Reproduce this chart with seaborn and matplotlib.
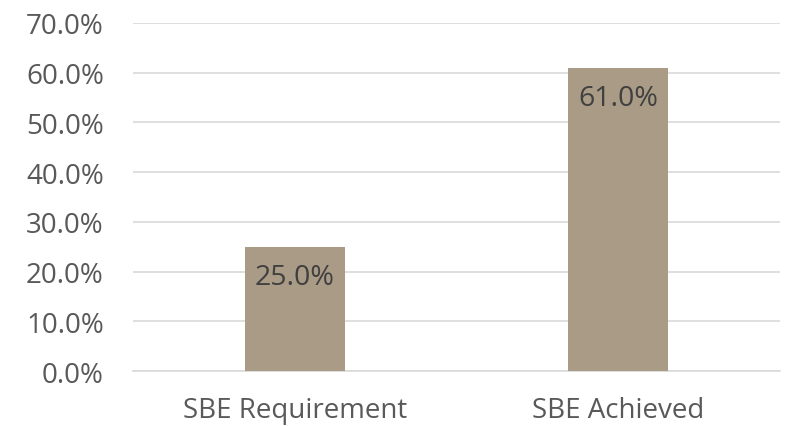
import matplotlib
matplotlib.use("Agg")
import matplotlib.pyplot as plt
import seaborn as sns
import pandas as pd
from matplotlib.ticker import FuncFormatter

categories = ["SBE Requirement", "SBE Achieved"]
values = [25.0, 61.0]
bar_labels = ["25.0%", "61.0%"]

sns.set_theme(style="white")
plt.rcParams["font.family"] = ["Open Sans", "DejaVu Sans"]

df = pd.DataFrame({"category": categories, "value": values})

fig = plt.figure(figsize=(7.87, 4.27), dpi=100)
ax = fig.add_axes([0.169, 0.1288, 0.822, 0.815])

sns.barplot(data=df, x="category", y="value", color="#AA9B86", width=0.31,
            saturation=1, linewidth=0, ax=ax, zorder=3)

ax.set_ylim(0, 70)
ax.set_yticks(range(0, 71, 10))
ax.yaxis.set_major_formatter(FuncFormatter(lambda v, p: f"{v:.1f}%"))
ax.grid(axis="y", color="#D9D9D9", linewidth=1.2, zorder=0)
ax.set_axisbelow(True)
for s in ["top", "right", "left"]:
    ax.spines[s].set_visible(False)
ax.spines["bottom"].set_color("#D9D9D9")
ax.spines["bottom"].set_linewidth(1.2)
ax.set_xlabel("")
ax.set_ylabel("")
ax.tick_params(axis="both", length=0, labelsize=20, colors="#595959")
ax.tick_params(axis="x", pad=18)
ax.tick_params(axis="y", pad=21)

for i, (v, lab) in enumerate(zip(values, bar_labels)):
    ax.annotate(lab, (i, v), xytext=(0, -30), textcoords="offset pixels",
                ha="center", va="center", fontsize=20.5, color="#404040", zorder=4)

fig.savefig("out.png", dpi=100)
